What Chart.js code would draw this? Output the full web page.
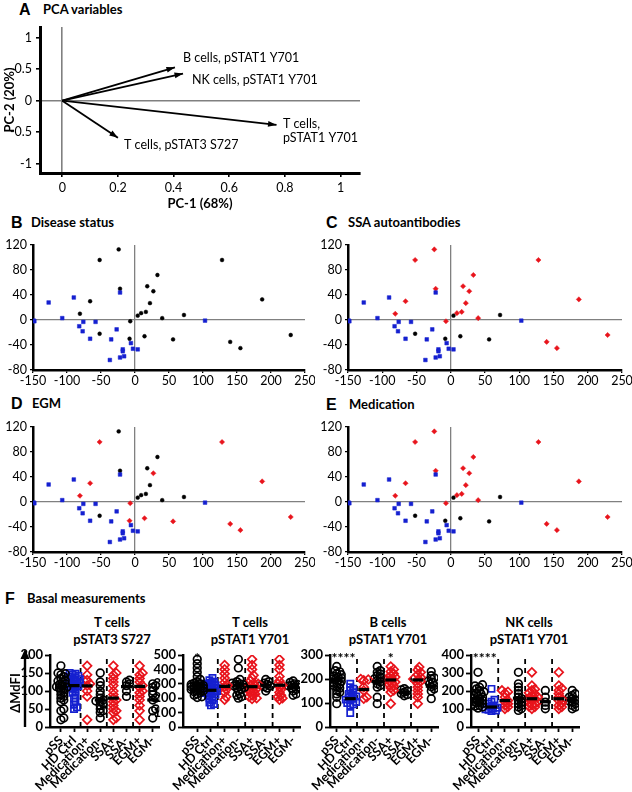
<!DOCTYPE html>
<html>
<head>
<meta charset="utf-8">
<script src="https://cdn.jsdelivr.net/npm/chart.js@4.4.1/dist/chart.umd.min.js"></script>
<style>
  body { margin: 0; background: #fff; width: 632px; height: 792px; position: relative; overflow: hidden; font-family: Lato, sans-serif; }
  canvas { position: absolute; }
  .t { position: absolute; white-space: nowrap; font-weight: bold; color: #000; }
  .letter { font-family: "Liberation Sans", Arial, sans-serif; font-size: 16px; line-height: 16px; }
  .ttl { font-size: 13px; line-height: 13px; }
  .sub { font-size: 13px; line-height: 13px; text-align: center; width: 140px; }
</style>
</head>
<body>
<div class="t letter" style="left:19px;top:2px">A</div>
<div class="t ttl" style="left:43px;top:3px">PCA variables</div>
<div class="t letter" style="left:11px;top:215px">B</div>
<div class="t ttl" style="left:31px;top:216px">Disease status</div>
<div class="t letter" style="left:326px;top:215px">C</div>
<div class="t ttl" style="left:348px;top:216px">SSA autoantibodies</div>
<div class="t letter" style="left:11px;top:396px">D</div>
<div class="t ttl" style="left:32px;top:397px">EGM</div>
<div class="t letter" style="left:326px;top:397px">E</div>
<div class="t ttl" style="left:349px;top:398px">Medication</div>
<div class="t letter" style="left:5px;top:591px">F</div>
<div class="t ttl" style="left:27px;top:592px">Basal measurements</div>

<div class="t sub" style="left:42px;top:616px">T cells</div>
<div class="t sub" style="left:42px;top:633px">pSTAT3 S727</div>
<div class="t sub" style="left:180px;top:616px">T cells</div>
<div class="t sub" style="left:180px;top:633px">pSTAT1 Y701</div>
<div class="t sub" style="left:318px;top:616px">B cells</div>
<div class="t sub" style="left:318px;top:633px">pSTAT1 Y701</div>
<div class="t sub" style="left:459px;top:616px">NK cells</div>
<div class="t sub" style="left:459px;top:633px">pSTAT1 Y701</div>

<canvas id="pcaVars" width="380" height="197" style="left:0;top:18px"></canvas>
<canvas id="disease" width="315" height="155" style="left:0;top:235px"></canvas>
<canvas id="ssaChart" width="317" height="155" style="left:315px;top:235px"></canvas>
<canvas id="egmChart" width="315" height="155" style="left:0;top:417px"></canvas>
<canvas id="medChart" width="317" height="155" style="left:315px;top:417px"></canvas>
<canvas id="f1" width="168" height="147" style="left:0;top:645px"></canvas>
<canvas id="f2" width="160" height="147" style="left:150px;top:645px"></canvas>
<canvas id="f3" width="150" height="147" style="left:297px;top:645px"></canvas>
<canvas id="f4" width="150" height="147" style="left:438px;top:645px"></canvas>

<script>
// ---- A: PCA loadings
const vecNames = ["B cells, pSTAT1 Y701", "NK cells, pSTAT1 Y701", ["T cells,", "pSTAT1 Y701"], "T cells, pSTAT3 S727"];
const vecPC1 = [0.405, 0.434, 0.77, 0.2];
const vecPC2 = [0.53, 0.43, -0.386, -0.59];
const vecLabelX = [0.434, 0.466, 0.793, 0.222];
const vecLabelY = [0.67, 0.33, -0.365, -0.70];
const loadXTicks = [0, 0.2, 0.4, 0.6, 0.8, 1];
const loadYTicks = [-1, -0.5, 0, 0.5, 1];

// ---- B-E: PCA scores (same subjects, coloured by group)
const pc1 = [-52, -24, -22, -66, -81, -52, -7, -8, 4, 9, 16, 18, 22, 27, 33, 40, 14, 56, 72, 128, 140, 155, 187, 229,
  -148, -149, -127, -107, -90, -82, -76, -77, -66, -58, -27, -35, -22, -18, -18, -22, -16, -37, -6, -3, 4, 103];
const pc2 = [96, 113, 50, 30, 10, -22, -2, -30, 7, 11, 13, 54, 27, 46, 72, 3, -26, -31, 8, 96, -35, -45, 33, -24,
  -2, -1, 28, 3, 36, -10, -3, -18, -30, -3, -15, -31, 44, -47, -50, -60, -58, -64, -37, -46, -47, -1];
const diseaseGroup = ["pSS","pSS","pSS","pSS","pSS","pSS","pSS","pSS","pSS","pSS","pSS","pSS","pSS","pSS","pSS","pSS","pSS","pSS","pSS","pSS","pSS","pSS","pSS","pSS",
  "HD","HD","HD","HD","HD","HD","HD","HD","HD","HD","HD","HD","HD","HD","HD","HD","HD","HD","HD","HD","HD","HD"];
const ssaStatus = ["+","+","+","+","+","-","+","-","-","+","+","+","+","+","+","+","-","-","-","+","+","+","+","+"];
const egmStatus = ["+","-","-","+","+","-","+","+","-","-","-","-","-","+","-","-","+","+","-","+","+","+","+","+"];
const medStatus = ["+","+","+","+","+","-","+","-","-","+","+","+","+","+","+","+","-","-","-","+","+","+","+","+"];
const pcaXTicks = [-150, -100, -50, 0, 50, 100, 150, 200, 250];
const pcaYTicks = [-80, -40, 0, 40, 80, 120];

// ---- F: basal measurements
const categories = ["pSS", "HD Ctrl", "Medication+", "Medication-", "SSA+", "SSA-", "EGM+", "EGM-"];
const separators = [1.5, 3.5, 5.5];

const tStat3 = [
  [170,150,148,145,140,135,130,128,125,120,118,115,112,110,108,105,100,95,90,85,80,75,70,50,45,25,20],
  [150,148,145,142,140,138,135,133,130,128,126,124,122,120,118,116,114,112,110,106,100,95,88,80,70,62,55,50],
  [170,145,130,120,115,100,85,20],
  [150,125,115,100,90,80,75,72,70,65,60,50,45,40,25],
  [170,150,145,135,125,115,100,90,80,75,70,60,50,45,40,25,20],
  [130,125,120,115,100,85],
  [170,150,145,135,125,115,110,100,95,85,75,60,45,20],
  [120,115,110,100,90,80,75,50,45,25]
];
const tStat3Mean = [110, 115, 114, 75, 80, 112, 113, 75];
const tStat3Ticks = [0, 50, 100, 150, 200];

const tStat1 = [
  [470,440,410,380,350,330,315,305,300,295,290,288,285,282,280,275,270,268,265,260,255,250,245,240,230,220,210,205],
  [340,325,315,305,300,295,290,285,280,275,270,265,260,255,250,245,240,235,230,225,220,210,200,185,170,160,150],
  [430,400,370,340,310,290,280,260,240,210,190],
  [470,410,330,315,305,300,295,290,285,280,275,270,260,250,230,220,210,200],
  [470,430,400,360,340,320,305,300,290,285,280,270,265,260,250,240,230,220,210,200,195],
  [330,315,305,295,290,285,280,270,250],
  [470,430,400,350,320,300,290,280,260,240,220,210,200,190],
  [320,310,300,295,290,285,280,275,270,260,250,230,220]
];
const tStat1Mean = [290, 255, 282, 290, 280, 290, 290, 275];
const tStat1Ticks = [0, 100, 200, 300, 400, 500];

const bStat1 = [
  [252,235,230,222,218,212,208,204,200,197,194,190,186,183,178,173,168,162,152,145,138,124,97],
  [180,166,160,152,145,138,132,127,122,118,114,110,104,100,95,90,58],
  [200,198,194,166,152,124,118],
  [252,235,228,221,214,205,200,194,188,180,173,166,124,97],
  [252,240,231,222,214,208,205,200,196,192,187,182,176,170,163,152,145,97],
  [160,155,150,145,140,135,130],
  [250,238,228,218,207,200,196,190,180,166,152,138,124,97],
  [231,214,205,200,192,187,180,173,168,159,150,118]
];
const bStat1Mean = [196, 118, 156, 190, 196, 143, 196, 170];
const bStat1Ticks = [0, 100, 200, 300];

const nkStat1 = [
  [304,235,228,221,212,203,195,188,184,178,172,166,160,155,150,147,142,138,134,129,125,120,116,111,105],
  [212,151,140,130,120,113,107,102,98,96,92,88],
  [203,195,188,166,147,140,129,120,111,101],
  [304,240,221,203,185,166,158,147,138,129,120,111,101,92],
  [304,230,210,203,190,184,175,166,160,157,150,147,140,135,129,122,115,111,101],
  [203,166,138,120,101],
  [304,230,215,203,185,166,150,147,130,120,111,101],
  [203,185,175,166,157,150,145,138,130,120,110,101]
];
const nkStat1Mean = [157, 111, 147, 160, 157, 140, 157, 150];
const nkStat1Ticks = [0, 100, 200, 300, 400];

const starText = [[], ["*"], ["****", "*"], ["****"]];
const starPos = [[], [0], [0.5, 4], [0.5]];

Chart.defaults.font.family = "Lato, sans-serif";
Chart.defaults.color = "#000";

const BLUE = "#1520d0";
const RED = "#e8141c";

// force axis box sizes so the plot areas land where the figure has them
const fit = (size) => (s) => {
  if (s.isHorizontal()) s.height = size; else s.width = size;
  s.paddingTop = 0; s.paddingBottom = 0; s.paddingLeft = 0; s.paddingRight = 0;
};
const setTicks = (arr) => (s) => { s.ticks = arr.map(v => ({ value: v })); };
const zeroGrid = (ctx) => (ctx.tick && ctx.tick.value === 0 ? "#808080" : "rgba(0,0,0,0)");
const plain = (v) => String(Math.round(v * 100) / 100);

// ---------- A
const arrowPlugin = {
  id: "arrows",
  afterDatasetsDraw(chart) {
    const { ctx, scales: { x, y } } = chart;
    ctx.save();
    ctx.fillStyle = "#000";
    vecPC1.forEach((v, i) => {
      const x0 = x.getPixelForValue(0), y0 = y.getPixelForValue(0);
      const x1 = x.getPixelForValue(v), y1 = y.getPixelForValue(vecPC2[i]);
      const a = Math.atan2(y1 - y0, x1 - x0);
      ctx.beginPath();
      ctx.moveTo(x1, y1);
      ctx.lineTo(x1 - 9 * Math.cos(a - 0.33), y1 - 9 * Math.sin(a - 0.33));
      ctx.lineTo(x1 - 9 * Math.cos(a + 0.33), y1 - 9 * Math.sin(a + 0.33));
      ctx.closePath();
      ctx.fill();
    });
    ctx.font = "12.5px Lato";
    ctx.textBaseline = "middle";
    ctx.textAlign = "left";
    vecNames.forEach((n, i) => {
      [].concat(n).forEach((line, j) => {
        ctx.fillText(line, x.getPixelForValue(vecLabelX[i]), y.getPixelForValue(vecLabelY[i]) + j * 14);
      });
    });
    ctx.restore();
  }
};

new Chart(document.getElementById("pcaVars"), {
  type: "scatter",
  data: {
    datasets: vecPC1.map((v, i) => ({
      data: [{ x: 0, y: 0 }, { x: v, y: vecPC2[i] }],
      showLine: true, borderColor: "#000", borderWidth: 1.8, pointRadius: 0
    }))
  },
  options: {
    responsive: false, animation: false, devicePixelRatio: 1,
    layout: { padding: { left: 0, top: 9, right: 20, bottom: 1 } },
    plugins: { legend: { display: false }, tooltip: { enabled: false } },
    scales: {
      x: {
        type: "linear", min: -0.08, max: 1.07,
        afterBuildTicks: setTicks(loadXTicks), afterFit: fit(41),
        grid: { color: zeroGrid, lineWidth: 1.6, tickLength: 4, tickColor: "#000" },
        border: { color: "#000", width: 3 },
        ticks: { font: { size: 12.5 }, padding: 3, maxRotation: 0, autoSkip: false, callback: plain },
        title: { display: true, text: "PC-1 (68%)", font: { size: 13, weight: "bold" }, padding: { top: 0, bottom: 2 } }
      },
      y: {
        type: "linear", min: -1.15, max: 1.17,
        afterBuildTicks: setTicks(loadYTicks), afterFit: fit(40),
        grid: { color: zeroGrid, lineWidth: 1.6, tickLength: 4, tickColor: "#000" },
        border: { color: "#000", width: 3 },
        ticks: { font: { size: 12.5 }, padding: 4, autoSkip: false, callback: plain },
        title: { display: true, text: "PC-2 (20%)", font: { size: 13, weight: "bold" }, padding: { top: 2, bottom: 0 } }
      }
    }
  },
  plugins: [arrowPlugin]
});

// ---------- B-E
function scoreChart(id, labelOf) {
  const groups = [
    { key: "HD", color: BLUE, style: "rect", r: 2.6 },
    { key: "neg", color: "#000", style: "circle", r: 1.9 },
    { key: "pos", color: RED, style: "rectRot", r: 2.6 }
  ];
  const datasets = groups.map(g => ({
    data: pc1.map((v, i) => ({ x: v, y: pc2[i], k: labelOf(i) })).filter(p => p.k === g.key),
    pointStyle: g.style, pointRadius: g.r, backgroundColor: g.color, borderColor: g.color, borderWidth: 0.5
  }));
  new Chart(document.getElementById(id), {
    type: "scatter",
    data: { datasets },
    options: {
      responsive: false, animation: false, devicePixelRatio: 1,
      layout: { padding: { left: 0, top: 10, right: 10, bottom: 0 } },
      plugins: { legend: { display: false }, tooltip: { enabled: false } },
      scales: {
        x: {
          type: "linear", min: -150, max: 250,
          afterBuildTicks: setTicks(pcaXTicks), afterFit: fit(20),
          grid: { color: zeroGrid, lineWidth: 1.3, tickLength: 3, tickColor: "#000" },
          border: { color: "#000", width: 2.5 },
          ticks: { font: { size: 12.5 }, padding: 0, maxRotation: 0, autoSkip: false }
        },
        y: {
          type: "linear", min: -80, max: 120,
          afterBuildTicks: setTicks(pcaYTicks), afterFit: fit(33),
          grid: { color: zeroGrid, lineWidth: 1.3, tickLength: 3, tickColor: "#000" },
          border: { color: "#000", width: 2.5 },
          ticks: { font: { size: 12.5 }, padding: 3, autoSkip: false }
        }
      }
    }
  });
}
const byStatus = (arr) => (i) => diseaseGroup[i] === "HD" ? "HD" : (arr[i] === "+" ? "pos" : "neg");
scoreChart("disease", (i) => diseaseGroup[i] === "HD" ? "HD" : "neg");
scoreChart("ssaChart", byStatus(ssaStatus));
scoreChart("egmChart", byStatus(egmStatus));
scoreChart("medChart", byStatus(medStatus));

// ---------- F
const catStyle = [
  { c: "#000", s: "circle" }, { c: BLUE, s: "rect" }, { c: RED, s: "rectRot" }, { c: "#000", s: "circle" },
  { c: RED, s: "rectRot" }, { c: "#000", s: "circle" }, { c: RED, s: "rectRot" }, { c: "#000", s: "circle" }
];

// narrow beeswarm: nudge close values sideways, but keep the column within +-maxW px
function swarm(vals, pxY, pxX, d, maxW) {
  const order = vals.map((v, i) => i).sort((a, b) => vals[a] - vals[b]);
  const placed = [];
  const off = vals.map(() => 0);
  const slots = [0];
  for (let k = 1.5; k <= maxW; k += 1.5) slots.push(k, -k);
  order.forEach(i => {
    const y = vals[i] * pxY;
    let best = 0, bestGap = -1;
    for (const dx of slots) {
      const gap = placed.reduce((m, p) => Math.min(m, Math.hypot(p.x - dx, p.y - y)), 1e9);
      if (gap >= d) { best = dx; bestGap = gap; break; }
      if (gap > bestGap) { best = dx; bestGap = gap; }
    }
    placed.push({ x: best, y });
    off[i] = best / pxX;
  });
  return off;
}

function dotChart(id, cols, means, yTicks, xMin, yAxisW, padRight, stars, starX, withYLabel) {
  const ymax = yTicks[yTicks.length - 1];
  const pxY = 72 / ymax;
  const datasets = [];
  datasets.push({
    order: 0,
    data: means.map((m, i) => ({ x: i, y: m })),
    pointStyle: "line", pointRadius: 5.5, borderColor: "#000", borderWidth: 3.2
  });
  cols.forEach((vals, ci) => {
    const off = swarm(vals, pxY, 13.5, 3.2, 7);
    datasets.push({
      order: 1,
      data: vals.map((v, j) => ({ x: ci + off[j], y: v })),
      pointStyle: catStyle[ci].s,
      pointRadius: catStyle[ci].s === "circle" ? 3.8 : 4.4,
      borderColor: catStyle[ci].c, backgroundColor: "rgba(0,0,0,0)", borderWidth: 1.7
    });
  });
  separators.forEach(sx => {
    datasets.push({
      order: 2,
      data: [{ x: sx, y: 0 }, { x: sx, y: ymax }],
      showLine: true, borderColor: "#000", borderWidth: 1.8, borderDash: [5, 4], pointRadius: 0
    });
  });
  const extras = {
    id: "extras" + id,
    afterDatasetsDraw(chart) {
      const { ctx, scales: { x, y } } = chart;
      ctx.save();
      ctx.fillStyle = "#000";
      ctx.font = "bold 14px Lato";
      ctx.textAlign = "center";
      ctx.textBaseline = "top";
      stars.forEach((s, i) => ctx.fillText(s, x.getPixelForValue(starX[i]), y.top - 4));
      if (withYLabel) {
        ctx.strokeStyle = "#000";
        ctx.lineWidth = 2.4;
        ctx.beginPath();
        ctx.moveTo(25, y.bottom);
        ctx.lineTo(25, y.top + 2);
        ctx.stroke();
        ctx.beginPath();
        ctx.moveTo(25, y.top - 6);
        ctx.lineTo(20.5, y.top + 4);
        ctx.lineTo(29.5, y.top + 4);
        ctx.closePath();
        ctx.fill();
        ctx.translate(16, (y.top + y.bottom) / 2 + 2);
        ctx.rotate(-Math.PI / 2);
        ctx.font = "bold 13px Lato";
        ctx.textBaseline = "middle";
        ctx.fillText("ΔMdFI", 0, 0);
      }
      ctx.restore();
    }
  };
  new Chart(document.getElementById(id), {
    type: "scatter",
    data: { datasets },
    options: {
      responsive: false, animation: false, devicePixelRatio: 1,
      layout: { padding: { left: 0, top: 10, right: padRight, bottom: 0 } },
      plugins: { legend: { display: false }, tooltip: { enabled: false } },
      scales: {
        x: {
          type: "linear", min: xMin, max: 7.5,
          afterBuildTicks: setTicks(categories.map((c, i) => i)), afterFit: fit(65),
          grid: { drawOnChartArea: false, tickLength: 5, tickColor: "#000", tickWidth: 1.8 },
          border: { color: "#000", width: 2.4 },
          ticks: {
            font: { size: 12.5, weight: "bold" }, padding: 1, minRotation: 45, maxRotation: 45, autoSkip: false,
            callback: (v) => categories[Math.round(v)]
          }
        },
        y: {
          type: "linear", min: 0, max: ymax,
          afterBuildTicks: setTicks(yTicks), afterFit: fit(yAxisW),
          grid: { drawOnChartArea: false, tickLength: 5, tickColor: "#000", tickWidth: 1.8 },
          border: { color: "#000", width: 2.4 },
          ticks: { font: { size: 13, weight: "bold" }, padding: 2, autoSkip: false }
        }
      }
    },
    plugins: [extras]
  });
}

dotChart("f1", tStat3, tStat3Mean, tStat3Ticks, -0.83, 50, 8, starText[0], starPos[0], true);
dotChart("f2", tStat1, tStat1Mean, tStat1Ticks, -1.04, 33, 10, starText[1], starPos[1], false);
dotChart("f3", bStat1, bStat1Mean, bStat1Ticks, -0.5, 33, 9, starText[2], starPos[2], false);
dotChart("f4", nkStat1, nkStat1Mean, nkStat1Ticks, -0.52, 33, 9, starText[3], starPos[3], false);
</script>
</body>
</html>
